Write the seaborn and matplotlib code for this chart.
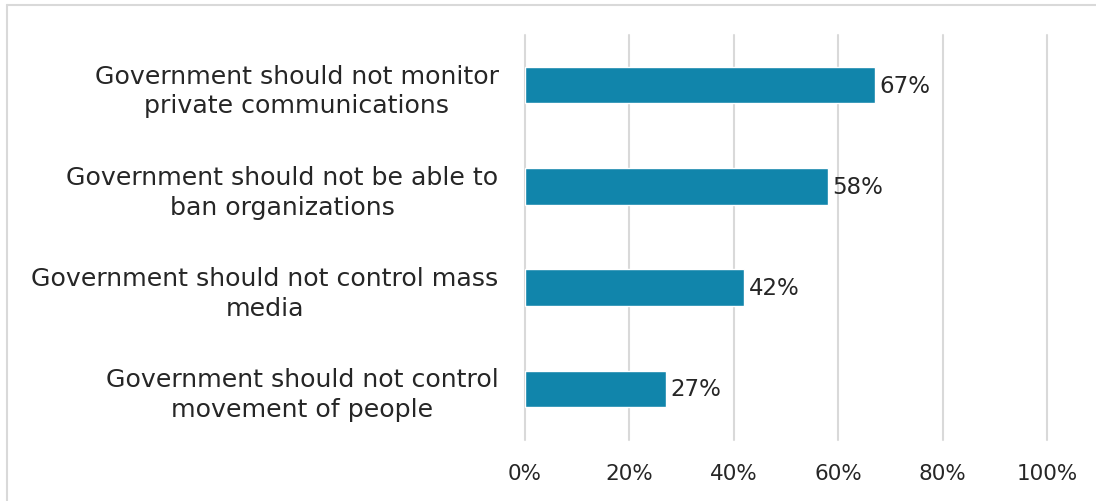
import matplotlib
matplotlib.use("Agg")
import matplotlib.pyplot as plt
import seaborn as sns
import pandas as pd
from matplotlib.lines import Line2D

categories = [
    "Government should not monitor\nprivate communications",
    "Government should not be able to\nban organizations",
    "Government should not control mass\nmedia",
    "Government should not control\nmovement of people",
]
values = [67, 58, 42, 27]
x_ticks = [0, 20, 40, 60, 80, 100]
x_tick_labels = ["0%", "20%", "40%", "60%", "80%", "100%"]

df = pd.DataFrame({"category": categories, "value": values})

sns.set_theme(style="white")
plt.rcParams["font.family"] = ["DejaVu Sans"]

W, H = 1096, 502
fig = plt.figure(figsize=(W / 100, H / 100), dpi=100)
ax = fig.add_axes([525 / W, 1 - 440.5 / H, (1047 - 525) / W, (440.5 - 35.5) / H])

sns.barplot(data=df, x="value", y="category", orient="h", color="#1185AB",
            saturation=1, width=0.36, ax=ax, zorder=3)

ax.set_xlim(0, 100)
ax.set_xticks(x_ticks)
ax.set_xticklabels(x_tick_labels, fontsize=15.5, color="#262626")
ax.tick_params(axis="x", length=0, pad=17)
ax.tick_params(axis="y", length=0, pad=19)
for lbl in ax.get_yticklabels():
    lbl.set_fontsize(18.2)
    lbl.set_color("#262626")
    lbl.set_multialignment("center")
    lbl.set_linespacing(1.3)
ax.set_xlabel("")
ax.set_ylabel("")
ax.grid(axis="y", visible=False)
for s in ax.spines.values():
    s.set_visible(False)

# vertical gridlines, not clipped at the axes edges
for t in x_ticks:
    ax.axvline(t, color="#D9D9D9", linewidth=1.5, zorder=0, clip_on=False)

for i, v in enumerate(values):
    ax.text(v + 0.9, i, f"{v}%", va="center", ha="left", fontsize=16.5, color="#262626")

# light chart frame
fig.add_artist(Line2D([6.5 / W, 6.5 / W], [0, 1 - 5.5 / H], transform=fig.transFigure,
                      color="#D9D9D9", linewidth=1.5))
fig.add_artist(Line2D([6.5 / W, 1], [1 - 5.5 / H, 1 - 5.5 / H], transform=fig.transFigure,
                      color="#D9D9D9", linewidth=1.5))

fig.savefig("out.png", dpi=100, facecolor="white")
